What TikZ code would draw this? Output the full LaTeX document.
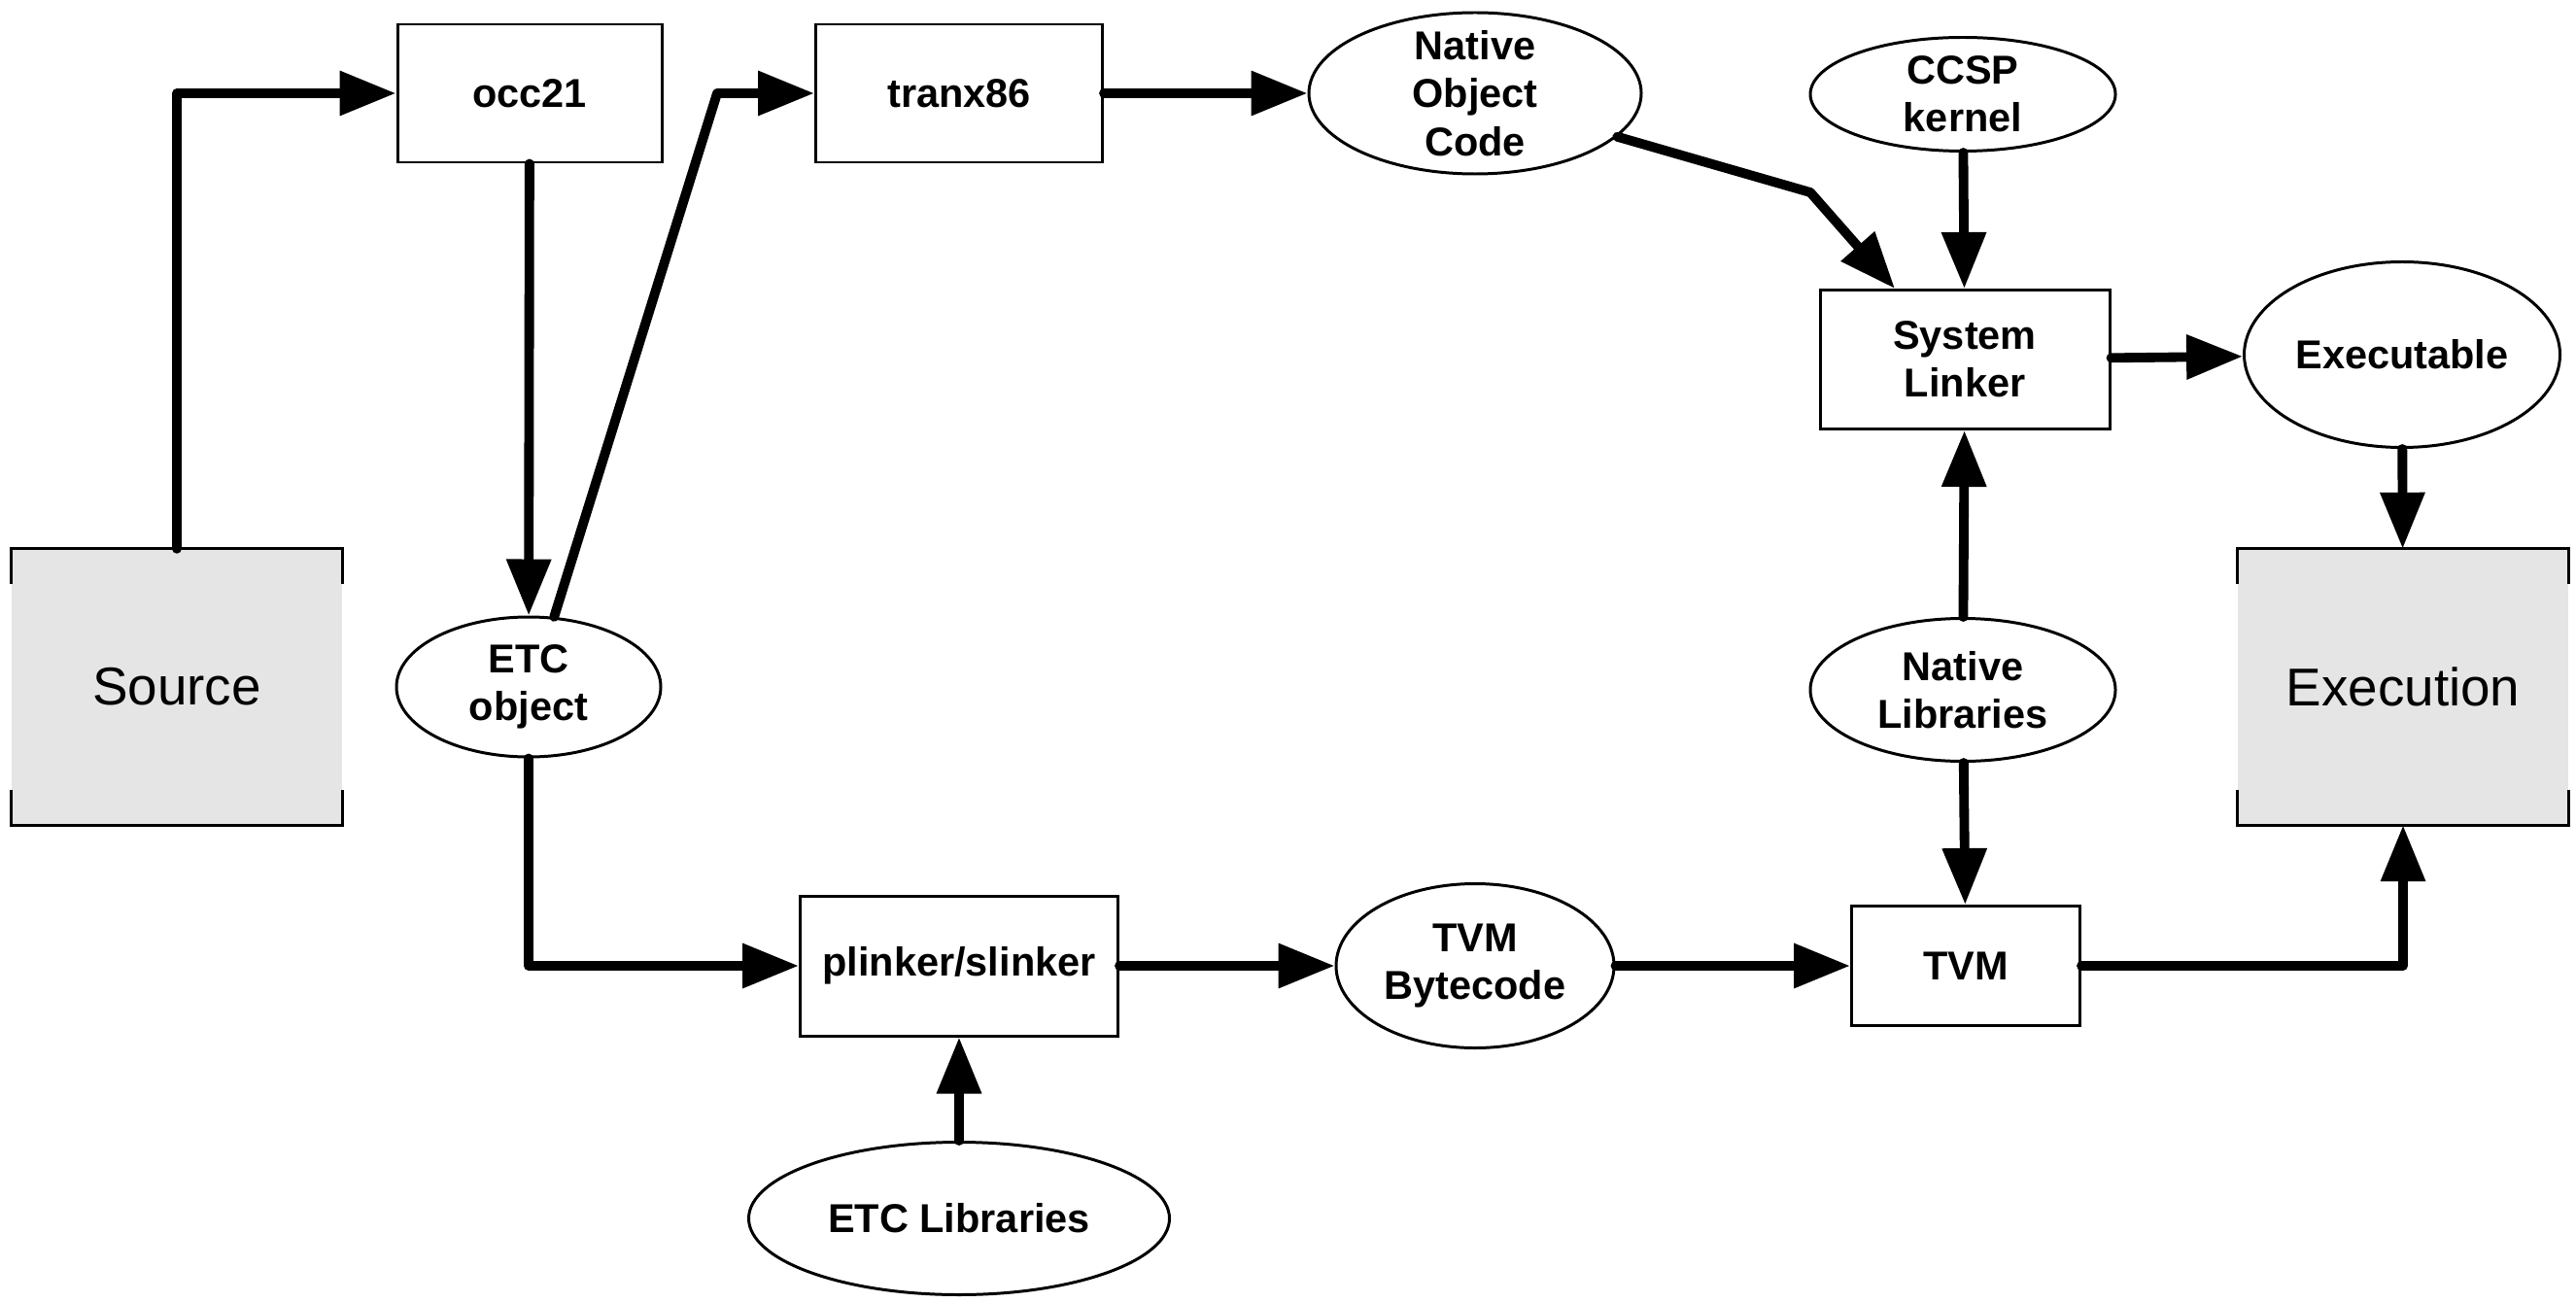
\documentclass[tikz,border=0pt]{standalone}
\usepackage{fontspec}
\setmainfont{Liberation Sans}
\usetikzlibrary{arrows.meta,shapes.geometric}
\tikzset{
box/.style={draw, line width=0.85pt, fill=white, inner sep=0pt, align=center, font=\fontsize{11.8}{14}\selectfont\bfseries},
blob/.style={draw, ellipse, line width=0.85pt, fill=white, inner xsep=0pt, inner ysep=-1mm, align=center, font=\fontsize{11.8}{14}\selectfont\bfseries},
endbox/.style={fill=gray!20, minimum width=3.4cm, minimum height=2.83cm, inner sep=0pt, font=\fontsize{15.6}{18}\selectfont},
arr/.style={-{Triangle[length=5.8mm, width=4.4mm]}, line width=2.8pt, line join=round, line cap=round}
}

\begin{document}
\begin{tikzpicture}
\useasboundingbox (0,0) rectangle (26.51,-13.40);
% end points
\node[endbox] (src) at (1.82,-7.07) {Source};
\node[endbox] (exe) at (24.73,-7.07) {Execution};
\foreach \n in {src, exe} {
\draw[line width=0.85pt] ([yshift=-3.6mm]\n.north west) |- (\n.north east) -- ++(0,-3.6mm);
\draw[line width=0.85pt] ([yshift=3.6mm]\n.south west) |- (\n.south east) -- ++(0,3.6mm);
}
% native path
\node[box, minimum width=2.72cm, minimum height=1.42cm] (occ21) at (5.45,-0.96) {occ21};
\node[box, minimum width=2.95cm, minimum height=1.42cm] (tranx86) at (9.87,-0.96) {tranx86};
\node[blob, minimum width=3.42cm, minimum height=1.66cm] (nobj) at (15.18,-0.96) {Native\\Object\\Code};
\node[blob, minimum width=3.14cm, minimum height=1.17cm] (ccsp) at (20.20,-0.97) {CCSP\\kernel};
\node[box, minimum width=2.98cm, minimum height=1.43cm] (syslink) at (20.22,-3.70) {System\\Linker};
\node[blob, minimum width=3.25cm, minimum height=1.91cm] (exec) at (24.72,-3.65) {Executable};
% bytecode path
\node[blob, minimum width=2.72cm, minimum height=1.44cm] (etcobj) at (5.44,-7.07) {ETC\\object};
\node[blob, minimum width=3.14cm, minimum height=1.47cm] (nlib) at (20.20,-7.10) {Native\\Libraries};
\node[box, minimum width=3.27cm, minimum height=1.44cm] (plink) at (9.87,-9.94) {plinker/slinker};
\node[blob, minimum width=2.86cm, minimum height=1.69cm] (tvmbc) at (15.18,-9.94) {TVM\\Bytecode};
\node[box, minimum width=2.35cm, minimum height=1.23cm] (tvm) at (20.23,-9.94) {TVM};
\node[blob, minimum width=4.33cm, minimum height=1.57cm] (etclib) at (9.87,-12.54) {ETC Libraries};

\draw[arr] (src.north) |- (occ21.west);
\draw[arr] (etcobj.70) -- ([xshift=-1cm]tranx86.west) -- (tranx86.west);
\draw[arr] (nobj.-17) -- (18.63,-1.98) -- ([xshift=-7.2mm]syslink.north);
\draw[arr] (etcobj.south) |- (plink.west);
\draw[arr] (tvm.east) -| (exe.south);
\foreach \a/\b in {occ21/etcobj, tranx86/nobj, ccsp/syslink, syslink/exec, exec/exe, nlib/syslink, nlib/tvm, plink/tvmbc, tvmbc/tvm, etclib/plink}
\draw[arr] (\a) -- (\b);
\end{tikzpicture}
\end{document}
